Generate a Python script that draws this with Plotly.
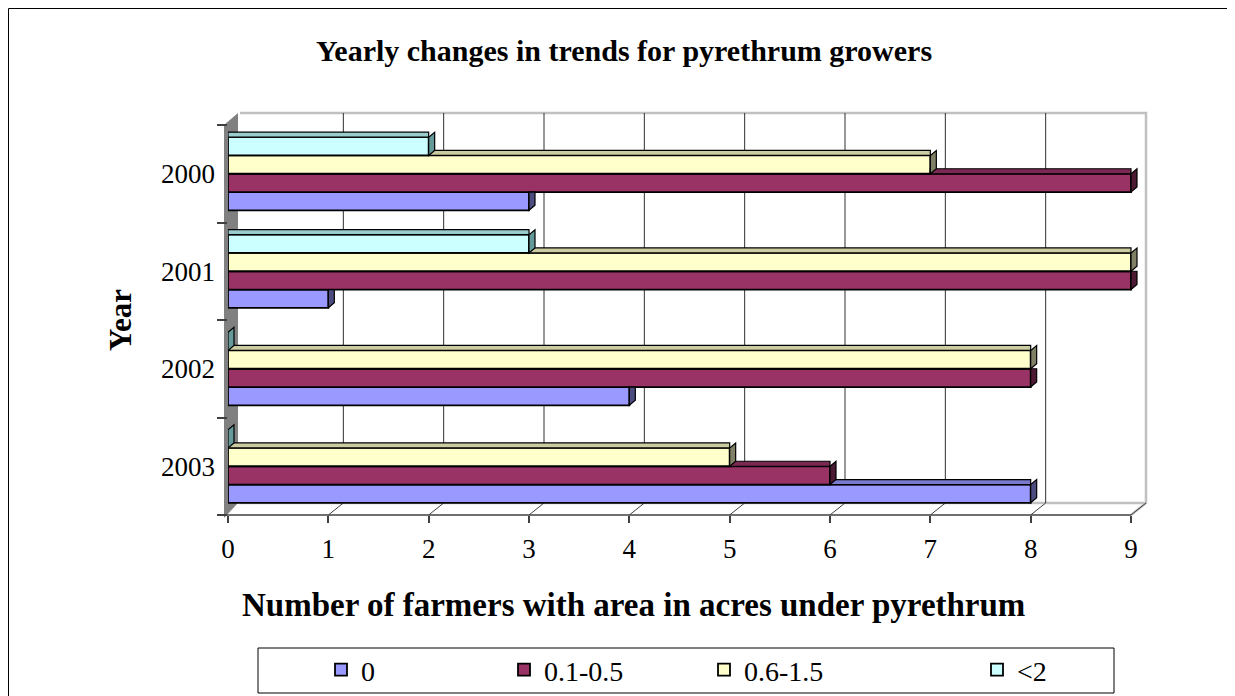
import plotly.graph_objects as go

# ---------------- data ----------------
years = ["2000", "2001", "2002", "2003"]
series_names = ["0", "0.1-0.5", "0.6-1.5", "<2"]
vals_0 = [3, 1, 4, 8]
vals_01_05 = [9, 9, 8, 6]
vals_06_15 = [7, 9, 8, 5]
vals_lt2 = [2, 3, 0, 0]
x_ticks = [0, 1, 2, 3, 4, 5, 6, 7, 8, 9]

series_values = [vals_0, vals_01_05, vals_06_15, vals_lt2]
face_colors = ["#9999FF", "#993366", "#FFFFCC", "#CCFFFF"]
side_colors = ["#4C4C80", "#4D1A33", "#808066", "#669999"]
top_colors = ["#7A7ACC", "#7A2952", "#CCCCA3", "#99CCCC"]

FONT = "Liberation Serif"

# page has an 8px body margin; work in page pixels and subtract it
OFF = 8
PAGE_W, PAGE_H = 1235, 696
W, H = PAGE_W - OFF, PAGE_H - OFF
FRONT_L, FRONT_R, PLOT_T, PLOT_B = 228, 1131, 125, 515   # page pixels of front face
FW = FRONT_R - FRONT_L
EXTRA = 17                                                 # room for the 3-D depth
PLOT_R = FRONT_R + EXTRA
X_MAX = x_ticks[-1] * (FW + EXTRA) / FW
ML, MR, MT, MB = FRONT_L - OFF, PAGE_W - PLOT_R, PLOT_T - OFF, PAGE_H - PLOT_B
PW = PLOT_R - FRONT_L
PH = PLOT_B - PLOT_T
DEPTH_X, DEPTH_Y = 15, 12       # 3-D depth of walls
CAP_X, CAP_Y = 6, 5             # 3-D depth of bars
BARGAP = 0.25
band_px = PH / len(years)
bar_px = band_px * (1 - BARGAP) / len(series_names)
cat_order = years[::-1]          # 2003 at bottom, 2000 at top

fig = go.Figure()

legend_ids = ["legend", "legend2", "legend3", "legend4"]
for i, (name, vals) in enumerate(zip(series_names, series_values)):
    fig.add_trace(go.Bar(
        y=years, x=vals, name=name, orientation="h",
        marker=dict(color=face_colors[i], line=dict(color="black", width=1.8)),
        legend=legend_ids[i], hoverinfo="x+y+name",
    ))

shapes = []

def pshape(path, fill=None, line_color="rgba(0,0,0,0)", width=1, layer="below"):
    d = dict(type="path", path=path, xref="paper", yref="paper",
             xsizemode="pixel", ysizemode="pixel", xanchor=0, yanchor=0,
             line=dict(color=line_color, width=width), layer=layer)
    if fill:
        d["fillcolor"] = fill
    return d

# left side wall (dark gray)
shapes.append(pshape(f"M -4,-3 L -4,{PH} L {DEPTH_X - 5},{PH + DEPTH_Y} L {DEPTH_X - 5},{DEPTH_Y} Z",
                     fill="#808080"))
# back wall outline (light gray)
shapes.append(pshape(f"M {DEPTH_X - 3},{PH + DEPTH_Y} L {FW + DEPTH_X},{PH + DEPTH_Y} "
                     f"L {FW + DEPTH_X},{DEPTH_Y} L {FW},0",
                     line_color="#C0C0C0", width=2.5))
# floor back line
shapes.append(pshape(f"M {DEPTH_X - 3},{DEPTH_Y} L {FW + DEPTH_X},{DEPTH_Y}",
                     line_color="#C0C0C0", width=2.5))
# floor front line
shapes.append(pshape(f"M -4,0 L {FW},0", line_color="#404040", width=1.5, layer="above"))

# gridlines on back wall + floor connectors, anchored to tick values
for t in x_ticks[1:-1]:
    shapes.append(dict(type="line", xref="x", yref="paper",
                       xsizemode="pixel", ysizemode="pixel", xanchor=t, yanchor=0,
                       x0=DEPTH_X, x1=DEPTH_X, y0=DEPTH_Y, y1=PH + DEPTH_Y,
                       line=dict(color="#303030", width=1), layer="below"))
for t in x_ticks[1:]:
    shapes.append(dict(type="line", xref="x", yref="paper",
                       xsizemode="pixel", ysizemode="pixel", xanchor=t, yanchor=0,
                       x0=0, x1=DEPTH_X, y0=0, y1=DEPTH_Y,
                       line=dict(color="#404040", width=1), layer="below"))

# ---- 3-D caps on bars ----
h = bar_px / 2
for ci, yr in enumerate(years):
    yidx = cat_order.index(yr)
    for i in range(len(series_names)):
        v = series_values[i][ci]
        c = (i - (len(series_names) - 1) / 2) * bar_px
        above = series_values[i + 1][ci] if i + 1 < len(series_names) else None
        top_visible = above is None or above < v
        if top_visible:
            a = 0 if above is None else above
            if v > a:
                shapes.append(dict(type="rect", xref="x", yref="y",
                                   ysizemode="pixel", yanchor=yidx,
                                   x0=a, x1=v, y0=c + h, y1=c + h + CAP_Y,
                                   fillcolor=top_colors[i],
                                   line=dict(color="black", width=1.2), layer="above"))
            top_y = c + h + CAP_Y
        else:
            top_y = c + h
        shapes.append(dict(type="path", xref="x", yref="y",
                           xsizemode="pixel", ysizemode="pixel", xanchor=v, yanchor=yidx,
                           path=f"M 0,{c - h:.2f} L {CAP_X},{c - h + CAP_Y:.2f} L {CAP_X},{top_y:.2f} L 0,{c + h:.2f} Z",
                           fillcolor=side_colors[i],
                           line=dict(color="black", width=1.2), layer="above"))

# legend box
shapes.append(dict(type="rect", xref="paper", yref="paper",
                   xsizemode="pixel", ysizemode="pixel", xanchor=0, yanchor=0,
                   x0=258 - FRONT_L, x1=1114 - FRONT_L, y0=PLOT_B - 648, y1=PLOT_B - 693,
                   line=dict(color="black", width=1), fillcolor="rgba(0,0,0,0)", layer="above"))
# outer chart border
shapes.append(dict(type="rect", xref="paper", yref="paper",
                   xsizemode="pixel", ysizemode="pixel", xanchor=0, yanchor=0,
                   x0=OFF + 0.5 - FRONT_L, x1=1233 - FRONT_L, y0=PLOT_B - OFF - 0.5, y1=PLOT_B - 700,
                   line=dict(color="black", width=1), fillcolor="rgba(0,0,0,0)", layer="above"))

# ---- legends ----
legend_x_px = [340, 523, 723, 996]
legend_layouts = {}
for lid, px in zip(legend_ids, legend_x_px):
    legend_layouts[lid] = dict(
        x=(px - 19 - FRONT_L) / PW, xanchor="left",
        y=(PLOT_B - 670) / PH, yanchor="middle",
        orientation="h", bgcolor="rgba(0,0,0,0)", borderwidth=0,
        font=dict(family=FONT, size=28, color="black"),
        itemwidth=30, tracegroupgap=0,
    )

annotations = [
    dict(text="<b>Yearly changes in trends for pyrethrum growers</b>",
         xref="paper", yref="paper", x=(624 - FRONT_L) / PW, y=(PLOT_B - 50) / PH,
         xanchor="center", yanchor="middle", showarrow=False,
         font=dict(family=FONT, size=30, color="black")),
    dict(text="<b>Number of farmers with area in acres under pyrethrum</b>",
         xref="paper", yref="paper", x=(633 - FRONT_L) / PW, y=(PLOT_B - 605) / PH,
         xanchor="center", yanchor="middle", showarrow=False,
         font=dict(family=FONT, size=33, color="black")),
    dict(text="<b>Year</b>", textangle=-90,
         xref="paper", yref="paper", x=(120 - FRONT_L) / PW, y=(PLOT_B - 320) / PH,
         xanchor="center", yanchor="middle", showarrow=False,
         font=dict(family=FONT, size=31, color="black")),
]

fig.update_layout(
    width=W, height=H,
    margin=dict(l=ML, r=MR, t=MT, b=MB, autoexpand=False),
    paper_bgcolor="white", plot_bgcolor="rgba(0,0,0,0)",
    barmode="group", bargap=BARGAP, bargroupgap=0,
    showlegend=True,
    font=dict(family=FONT, size=27, color="black"),
    xaxis=dict(range=[0, X_MAX], tickvals=x_ticks, ticktext=[str(t) for t in x_ticks],
               showgrid=False, zeroline=False, showline=False,
               ticks="outside", ticklen=7, tickcolor="#404040", tickwidth=1.5,
               ticklabelstandoff=3,
               tickfont=dict(family=FONT, size=27, color="black")),
    yaxis=dict(type="category", categoryorder="array", categoryarray=cat_order,
               range=[-0.5, 3.5], showgrid=False, zeroline=False, showline=False,
               ticks="outside", tickson="boundaries", ticklen=10, tickcolor="#404040",
               tickwidth=1.5, ticklabelstandoff=12,
               tickfont=dict(family=FONT, size=27, color="black")),
    shapes=shapes,
    annotations=annotations,
    **legend_layouts,
)

fig.write_html("out.html")
